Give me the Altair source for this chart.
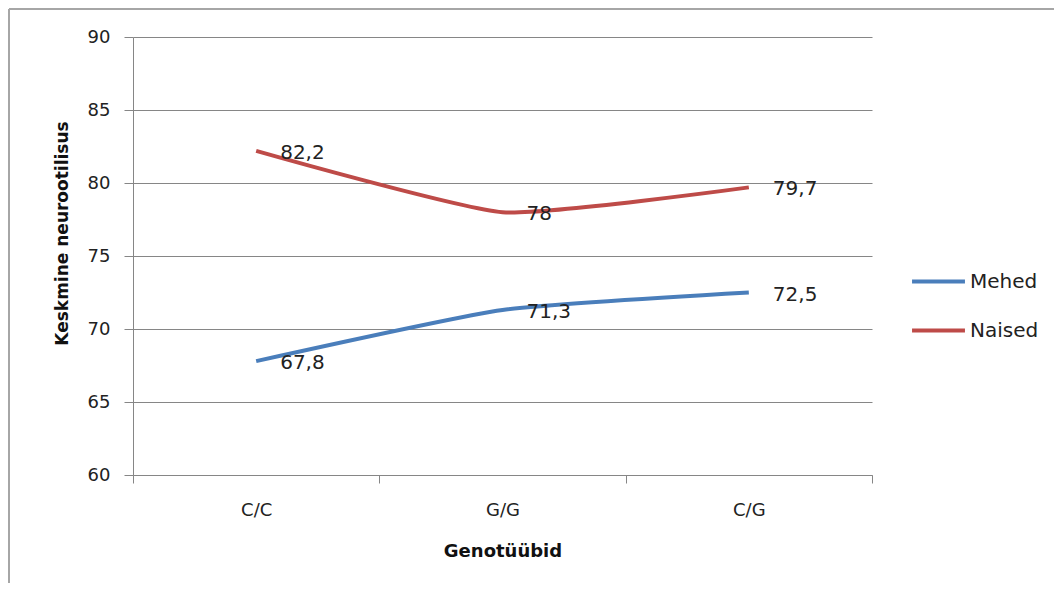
import altair as alt
import pandas as pd

genotypes = ["C/C", "G/G", "C/G"]
series_names = ["Mehed", "Naised"]
mehed = [67.8, 71.3, 72.5]
naised = [82.2, 78.0, 79.7]
colors = ["#4a7ebb", "#be4b48"]

rows = []
for name, vals in zip(series_names, [mehed, naised]):
    for g, v in zip(genotypes, vals):
        rows.append({"Genotüüp": g, "Sugu": name, "Väärtus": v,
                     "Silt": (f"{v:g}").replace(".", ",")})
df = pd.DataFrame(rows)

FONT = "DejaVu Sans"
W, H = 739, 438
AX = dict(labelFont=FONT, titleFont=FONT, labelFontSize=18,
          titleFontWeight="bold", labelColor="#222222", titleColor="#111111",
          domainColor="#868686", tickColor="#868686", gridColor="#868686",
          domainWidth=1, tickWidth=1, gridWidth=1)

x_enc = alt.X("Genotüüp:N", sort=genotypes, bandPosition=0.5,
              scale=alt.Scale(type="band", paddingInner=0, paddingOuter=0),
              axis=alt.Axis(title="Genotüübid", labelAngle=0, tickBand="extent",
                            tickSize=8, labelPadding=18, grid=False,
                            titleFontSize=18, titleY=76, titleBaseline="middle",
                            **AX))
y_enc = alt.Y("Väärtus:Q", scale=alt.Scale(domain=[60, 90], nice=False, zero=False),
              axis=alt.Axis(title="Keskmine neurootilisus", values=[60, 65, 70, 75, 80, 85, 90],
                            tickSize=9, labelPadding=14, grid=True,
                            titleFontSize=17, titleX=-71, titleY=196,
                            titleBaseline="middle", titleAlign="center", titleAngle=270,
                            **AX))

base = alt.Chart(df)

lines = base.mark_line(strokeWidth=4, interpolate="cardinal", tension=0.5).encode(
    x=x_enc, y=y_enc,
    color=alt.Color("Sugu:N", sort=series_names,
                    scale=alt.Scale(domain=series_names, range=colors),
                    legend=alt.Legend(title=None, orient="none", legendX=777, legendY=216,
                                      symbolType="stroke", symbolSize=2800,
                                      symbolStrokeWidth=4, labelFontSize=20,
                                      labelFont=FONT, labelColor="#222222",
                                      labelOffset=3, rowPadding=10, padding=0)),
)

labels = base.mark_text(align="left", baseline="middle", dx=24, dy=2,
                        fontSize=20, font=FONT, color="#222222").encode(
    x=x_enc, y=y_enc, text="Silt:N"
)

border_left = alt.Chart(pd.DataFrame({"a": [0]})).mark_rule(color="#a6a6a6", strokeWidth=2).encode(
    x=alt.value(-124), y=alt.value(-28), y2=alt.value(700)
)
border_top = alt.Chart(pd.DataFrame({"a": [0]})).mark_rule(color="#a6a6a6", strokeWidth=2).encode(
    y=alt.value(-28), x=alt.value(-124), x2=alt.value(1200)
)

chart = alt.layer(border_left, border_top, lines, labels).properties(
    width=W, height=H,
    autosize=alt.AutoSizeParams(type="none"),
    padding={"left": 125, "top": 29, "right": 182, "bottom": 108},
    background="white",
).configure_view(stroke=None)

chart.save("out.html", embed_options={"renderer": "svg", "actions": False})
